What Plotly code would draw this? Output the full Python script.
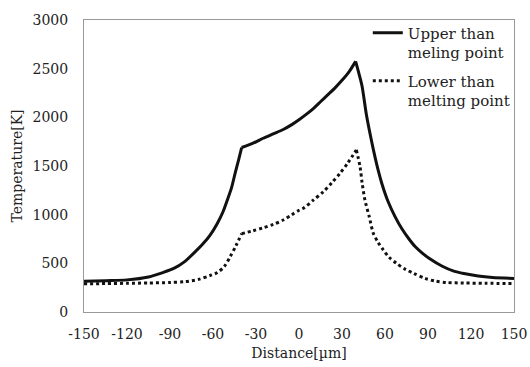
import plotly.graph_objects as go

# ---- data ----
upper_x = [-150, -135, -120, -105, -95, -87, -80, -73, -67, -62, -57, -53, -50, -47, -44.5, -42, -40,
           -32, -25, -18, -11, -5, 0, 5, 10, 15, 20, 25, 30, 35, 39.5,
           42, 44, 47, 50, 52, 55, 58, 62, 67, 72, 77, 81, 86, 91, 100, 108, 115, 125, 135, 150]
upper_t = [315, 322, 330, 360, 405, 450, 515, 610, 700, 790, 910, 1030, 1150, 1280, 1430, 1570, 1690,
           1735, 1785, 1830, 1875, 1925, 1975, 2030, 2090, 2160, 2230, 2300, 2380, 2470, 2575,
           2440, 2320, 2030, 1800, 1660, 1470, 1310, 1140, 980, 850, 745, 672, 605, 550, 470, 420, 395, 370, 355, 345]

lower_x = [-150, -135, -120, -105, -90, -80, -70, -62, -57, -52, -48, -44, -40,
           -32, -25, -18, -11, -5, 0, 3, 10, 17, 23, 28.6, 34, 40,
           42.6, 44, 46, 49, 51.8, 55, 58.8, 63, 68, 74, 80, 88, 95, 103, 115, 130, 150]
lower_t = [290, 292, 295, 298, 303, 311, 335, 375, 405, 470, 568, 680, 805,
           835, 865, 900, 945, 1000, 1045, 1065, 1150, 1236, 1330, 1425, 1530, 1665,
           1493, 1330, 1150, 980, 810, 720, 637, 560, 500, 440, 397, 345, 318, 303, 298, 295, 293]

# x positions where each curve has a sharp corner
upper_kinks = [-40, 39.5]
lower_kinks = [-40, 40]

x_tickvals = [-150, -120, -90, -60, -30, 0, 30, 60, 90, 120, 150]
x_ticktext = ["-150", "-120", "-90", "-60", "-30", "0", "30", "60", "90", "120", "150"]
y_tickvals = [0, 500, 1000, 1500, 2000, 2500, 3000]

series_names = ["Upper than<br>meling point", "Lower than<br>melting point"]

FONT = "DejaVu Serif"
TXT = "#222222"


def segments(xs, ys, kinks):
    idx = [0] + [xs.index(k) for k in kinks] + [len(xs) - 1]
    out = []
    for a, b in zip(idx[:-1], idx[1:]):
        out.append((xs[a:b + 1], ys[a:b + 1]))
    return out


fig = go.Figure()
for name, xs, ys, kinks, dash, grp in [
    (series_names[0], upper_x, upper_t, upper_kinks, "solid", "a"),
    (series_names[1], lower_x, lower_t, lower_kinks, "dot", "b"),
]:
    for i, (sx, sy) in enumerate(segments(xs, ys, kinks)):
        fig.add_trace(go.Scatter(x=sx, y=sy, mode="lines", name=name,
                                 legendgroup=grp, showlegend=(i == 0),
                                 line=dict(color="#111111", width=3, dash=dash,
                                           shape="spline", smoothing=0.8)))

fig.update_layout(
    width=530, height=367,
    margin=dict(l=84, r=16, t=20, b=55, autoexpand=False),
    paper_bgcolor="white", plot_bgcolor="white",
    font=dict(family=FONT, size=14, color=TXT),
    showlegend=True,
    legend=dict(x=0.66, y=1.012, xanchor="left", yanchor="top",
                bgcolor="rgba(0,0,0,0)", borderwidth=0,
                font=dict(family=FONT, size=15, color=TXT),
                valign="top", tracegroupgap=6),
)
fig.update_xaxes(range=[-150, 150], tickmode="array", tickvals=x_tickvals, ticktext=x_ticktext,
                 showline=True, linecolor="#999999", linewidth=1, mirror=True, automargin=False,
                 showgrid=False, zeroline=False, ticks="", ticklabelstandoff=9,
                 title=dict(text="Distance[µm]", font=dict(family=FONT, size=14, color=TXT), standoff=7))
fig.update_yaxes(range=[0, 3000], tickmode="array", tickvals=y_tickvals,
                 showline=True, linecolor="#999999", linewidth=1, mirror=True, automargin=False,
                 showgrid=False, zeroline=False, ticks="", ticklabelstandoff=12,
                 title=dict(text="Temperature[K]", font=dict(family=FONT, size=14, color=TXT), standoff=6))

fig.write_html("out.html")
